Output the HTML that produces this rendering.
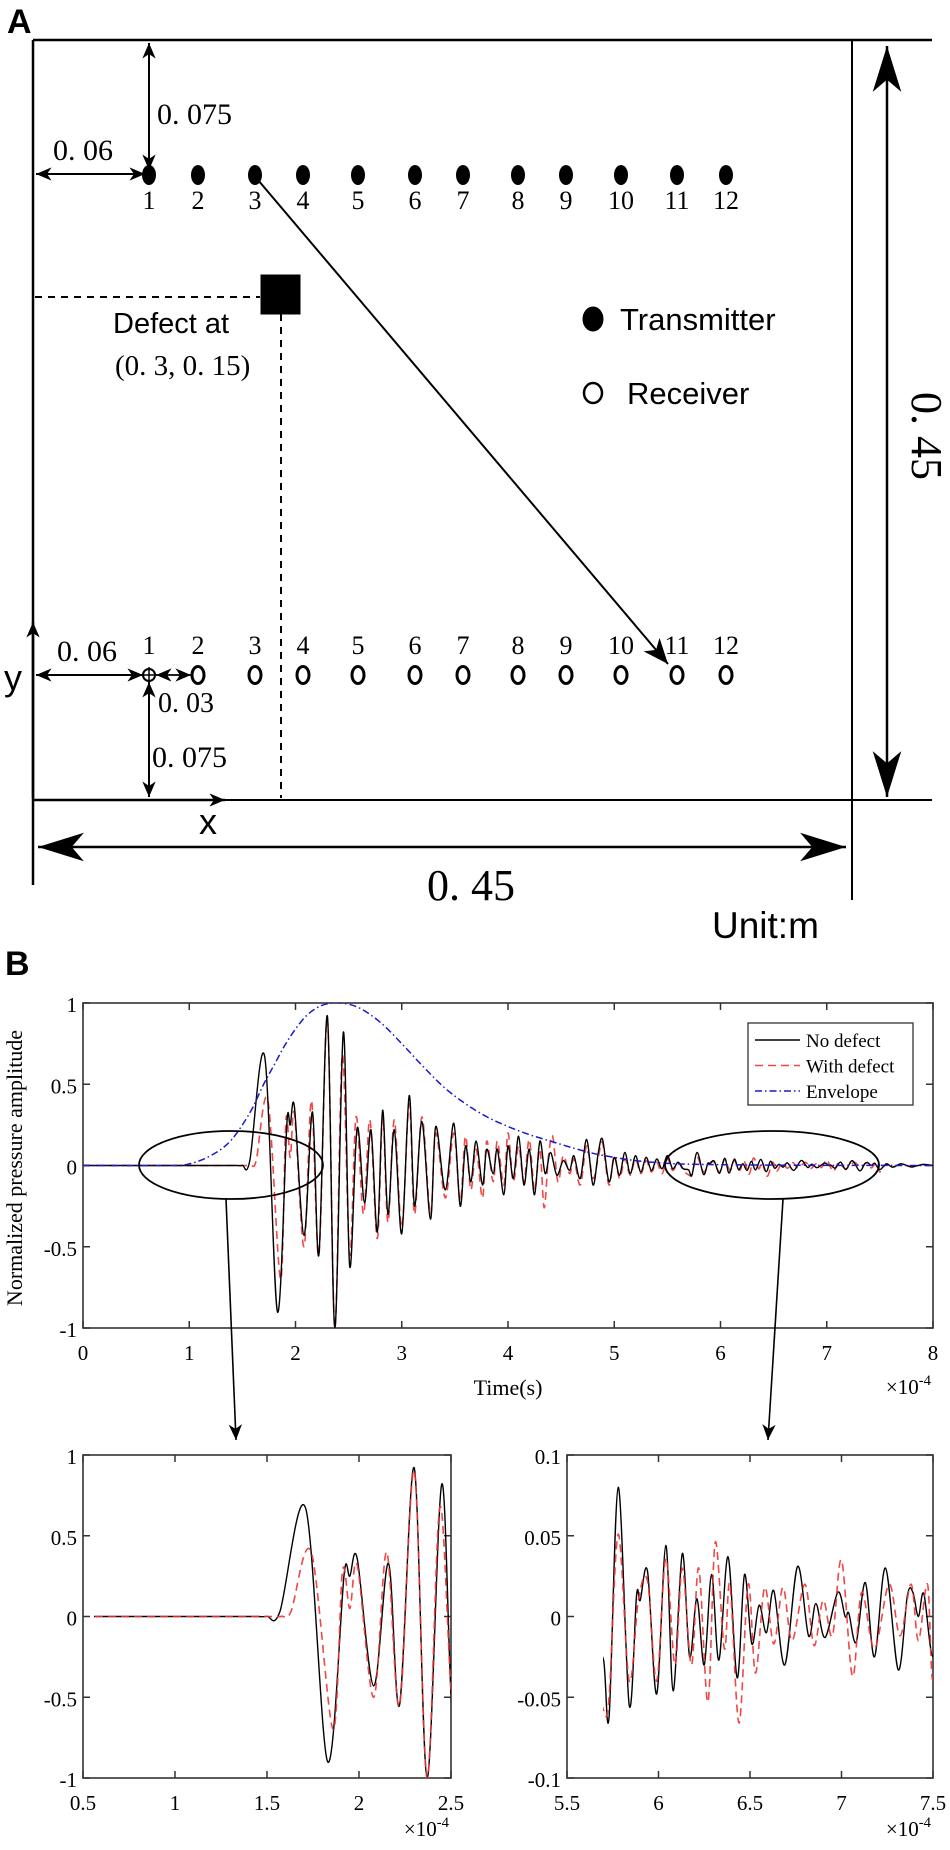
<!DOCTYPE html>
<html><head><meta charset="utf-8">
<style>
html,body{margin:0;padding:0;background:#fff;overflow:hidden;width:950px;height:1850px;}
svg{display:block;overflow:hidden;}
.serif{font-family:"Liberation Serif",serif;}
.sans{font-family:"Liberation Sans",sans-serif;}
</style></head>
<body>
<svg id="fig" width="950" height="1850" viewBox="0 0 950 1850" xmlns="http://www.w3.org/2000/svg">
<defs>
  <marker id="hs" markerUnits="userSpaceOnUse" markerWidth="20" markerHeight="20" refX="14" refY="0" viewBox="-2 -8 18 16" orient="auto-start-reverse"><path d="M0,-6 L14,0 L0,6 L4,0 Z" fill="#000"/></marker>
  <marker id="hm" markerUnits="userSpaceOnUse" markerWidth="30" markerHeight="30" refX="22" refY="0" viewBox="-2 -11 26 22" orient="auto-start-reverse"><path d="M0,-9 L22,0 L0,9 L6,0 Z" fill="#000"/></marker>
  <marker id="hb" markerUnits="userSpaceOnUse" markerWidth="50" markerHeight="34" refX="45" refY="0" viewBox="-2 -15 49 30" orient="auto-start-reverse"><path d="M0,-14 L45,0 L0,14 L12,0 Z" fill="#000"/></marker>
  <clipPath id="clipMain"><rect x="83" y="1003" width="850" height="325"/></clipPath>
  <clipPath id="clipL"><rect x="94" y="1455" width="357" height="323"/></clipPath>
  <clipPath id="clipR"><rect x="603" y="1455" width="330" height="323"/></clipPath>
</defs>

<!-- Panel A -->
<g stroke="#000" fill="none">
  <text class="sans" x="7" y="33" font-size="34" font-weight="bold" fill="#000" stroke="none">A</text>
  <line x1="33" y1="40" x2="932" y2="40" stroke-width="2.5"/>
  <line x1="33" y1="40" x2="33" y2="885" stroke-width="2.5"/>
  <line x1="852" y1="40" x2="852" y2="900" stroke-width="2"/>
  <line x1="33" y1="800" x2="932" y2="800" stroke-width="2"/>
  <line x1="887" y1="46" x2="887" y2="797" stroke-width="2.5" marker-start="url(#hb)" marker-end="url(#hb)"/>
  <line x1="38" y1="847" x2="846" y2="847" stroke-width="2.5" marker-start="url(#hb)" marker-end="url(#hb)"/>
  <line x1="149" y1="43" x2="149" y2="170" stroke-width="2" marker-start="url(#hs)" marker-end="url(#hs)"/>
  <line x1="36" y1="174" x2="145" y2="174" stroke-width="2" marker-start="url(#hs)" marker-end="url(#hs)"/>
  <line x1="258" y1="180" x2="668" y2="664" stroke-width="2" marker-end="url(#hm)"/>
  <line x1="35" y1="297" x2="260" y2="297" stroke-width="2" stroke-dasharray="7 6"/>
  <line x1="281" y1="314" x2="281" y2="798" stroke-width="2" stroke-dasharray="7 6"/>
  <rect x="261" y="275" width="39" height="39" fill="#000"/>
  <line x1="33" y1="798" x2="33" y2="622" stroke-width="2.5" marker-end="url(#hs)"/>
  <line x1="33" y1="800" x2="225" y2="800" stroke-width="2.5" marker-end="url(#hs)"/>
  <line x1="36" y1="675" x2="143" y2="675" stroke-width="2" marker-start="url(#hs)" marker-end="url(#hs)"/>
  <line x1="156" y1="675" x2="191" y2="675" stroke-width="1.8" marker-start="url(#hs)" marker-end="url(#hs)"/>
  <line x1="149" y1="682" x2="149" y2="797" stroke-width="2" marker-start="url(#hs)" marker-end="url(#hs)"/>
  <circle cx="149" cy="675" r="6" stroke-width="2"/>
  <line x1="141" y1="675" x2="157" y2="675" stroke-width="1.5"/>
  <line x1="149" y1="667" x2="149" y2="683" stroke-width="1.5"/>
  <ellipse cx="593" cy="319" rx="10" ry="12" fill="#000"/>
  <ellipse cx="593" cy="393" rx="9" ry="10" stroke-width="2.5"/>
</g>
<g fill="#000">
  <text class="serif" x="157" y="124" font-size="30">0. 075</text>
  <text class="serif" x="53" y="160" font-size="30">0. 06</text>
  <text class="sans" x="113" y="333" font-size="29">Defect at</text>
  <text class="serif" x="115" y="375" font-size="29">(0. 3, 0. 15)</text>
  <text class="sans" x="620" y="330" font-size="31">Transmitter</text>
  <text class="sans" x="627" y="404" font-size="31">Receiver</text>
  <text class="serif" x="0" y="0" font-size="44" transform="translate(912,392) rotate(90)">0. 45</text>
  <text class="serif" x="427" y="900" font-size="44">0. 45</text>
  <text class="sans" x="712" y="938" font-size="37">Unit:m</text>
  <text class="sans" x="4" y="690" font-size="36">y</text>
  <text class="sans" x="199" y="834" font-size="36">x</text>
  <text class="serif" x="57" y="661" font-size="30">0. 06</text>
  <text class="serif" x="158" y="712" font-size="28">0. 03</text>
  <text class="serif" x="152" y="767" font-size="30">0. 075</text>
</g>
<g id="sensors"></g>

<!-- Panel B -->
<text class="sans" x="5" y="975" font-size="34" font-weight="bold" fill="#000">B</text>
<g id="mainChart"></g>
<g id="insetL"></g>
<g id="insetR"></g>
<g stroke="#000" fill="none">
  <ellipse cx="231" cy="1165" rx="92" ry="34" stroke-width="1.8"/>
  <ellipse cx="772" cy="1165" rx="107" ry="34" stroke-width="1.8"/>
  <line x1="226" y1="1199" x2="236" y2="1440" stroke-width="1.6" marker-end="url(#hs)"/>
  <line x1="783" y1="1199" x2="768" y2="1440" stroke-width="1.6" marker-end="url(#hs)"/>
</g>

<script>
// Sensor layout data
const sensorLabels = ["1","2","3","4","5","6","7","8","9","10","11","12"];
const sensorX = [149,198,255,303,358,415,463,518,566,621,677,726];

// Chart data (time in 1e-4 s, normalized amplitude)
const noDefectPts = [[0,0],[1.45,0],[1.5,0.001],[1.57,0.03],[1.71,0.67],[1.83,-0.9],[1.92,0.27],[1.95,0.25],[1.99,0.36],[2.08,-0.43],[2.16,0.33],[2.22,-0.55],[2.30,0.92],[2.37,-1.0],[2.45,0.82],[2.51,-0.62],[2.58,0.23],[2.65,-0.23],[2.71,0.22],[2.77,-0.41],[2.82,0.34],[2.87,-0.3],[2.93,0.22],[3.0,-0.42],[3.07,0.43],[3.12,-0.25],[3.19,0.27],[3.27,-0.33],[3.32,0.24],[3.41,-0.15],[3.49,0.26],[3.55,-0.25],[3.6,0.12],[3.65,-0.1],[3.7,0.15],[3.76,-0.12],[3.8,0.1],[3.86,-0.05],[3.9,0.1],[3.96,-0.18],[4.0,0.12],[4.05,-0.08],[4.1,0.18],[4.15,-0.12],[4.2,0.1],[4.25,-0.18],[4.3,0.15],[4.35,-0.05],[4.4,0.08],[4.46,-0.06],[4.52,0.03],[4.58,-0.03],[4.62,0.06],[4.68,-0.08],[4.74,0.16],[4.8,-0.12],[4.85,0.08],[4.89,0.16],[4.95,-0.1],[5.0,0.05],[5.05,-0.06],[5.1,0.08],[5.15,-0.05],[5.2,0.06],[5.25,-0.04],[5.3,0.05],[5.35,-0.03],[5.4,0.04],[5.45,-0.02],[5.5,0.06],[5.55,-0.02],[5.6,0.02],[5.65,-0.02],[5.7,-0.027],[5.73,-0.062],[5.78,0.08],[5.84,-0.055],[5.88,0.013],[5.9,0.01],[5.94,0.028],[5.99,-0.048],[6.04,0.044],[6.08,-0.046],[6.13,0.039],[6.17,-0.025],[6.21,0.011],[6.25,-0.03],[6.29,0.026],[6.33,-0.027],[6.38,0.037],[6.43,-0.038],[6.47,0.026],[6.51,-0.017],[6.55,0.007],[6.59,-0.01],[6.63,0.016],[6.69,-0.03],[6.76,0.031],[6.82,-0.012],[6.86,0.008],[6.91,-0.013],[6.98,0.015],[7.02,0.0],[7.04,0.002],[7.08,-0.016],[7.13,0.021],[7.18,-0.025],[7.24,0.03],[7.31,-0.033],[7.36,0.013],[7.39,0.015],[7.42,0.0],[7.45,0.014],[7.5,-0.025],[7.56,0.01],[7.62,-0.01],[7.7,0.01],[7.8,-0.008],[7.9,0.006],[8,0]];
const withDefectPts = [[0,0],[1.52,0],[1.58,0.001],[1.63,0.03],[1.74,0.4],[1.86,-0.7],[1.91,0.28],[1.95,0.05],[1.99,0.32],[2.08,-0.5],[2.15,0.4],[2.22,-0.55],[2.30,0.9],[2.37,-1.0],[2.44,0.68],[2.51,-0.55],[2.57,0.3],[2.64,-0.3],[2.7,0.28],[2.77,-0.45],[2.82,0.3],[2.87,-0.35],[2.93,0.28],[3.0,-0.38],[3.07,0.38],[3.12,-0.3],[3.19,0.3],[3.27,-0.3],[3.32,0.2],[3.41,-0.2],[3.49,0.2],[3.55,-0.22],[3.6,0.18],[3.65,-0.15],[3.7,0.1],[3.76,-0.2],[3.8,0.15],[3.86,-0.1],[3.9,0.15],[3.96,-0.12],[4.0,0.2],[4.05,-0.1],[4.1,0.12],[4.15,-0.1],[4.2,0.16],[4.25,-0.15],[4.3,0.1],[4.34,-0.26],[4.38,0.05],[4.42,0.18],[4.47,-0.1],[4.52,0.06],[4.58,-0.05],[4.62,0.04],[4.68,-0.12],[4.74,0.12],[4.8,-0.08],[4.85,0.05],[4.89,0.14],[4.95,-0.12],[5.0,0.06],[5.05,-0.08],[5.1,0.04],[5.15,-0.06],[5.2,0.04],[5.25,-0.05],[5.3,0.03],[5.35,-0.04],[5.4,0.02],[5.45,-0.05],[5.5,0.04],[5.55,-0.03],[5.6,0.02],[5.65,-0.03],[5.7,-0.058],[5.73,-0.05],[5.78,0.051],[5.84,-0.04],[5.89,0.01],[5.94,0.022],[5.99,-0.04],[6.04,0.036],[6.09,-0.03],[6.13,0.03],[6.18,-0.03],[6.22,0.03],[6.27,-0.053],[6.31,0.046],[6.36,-0.02],[6.39,0.02],[6.44,-0.066],[6.49,0.02],[6.53,-0.035],[6.58,0.018],[6.63,-0.017],[6.68,0.018],[6.73,-0.015],[6.8,0.02],[6.85,-0.018],[6.9,0.01],[6.95,-0.012],[7.0,0.035],[7.06,-0.037],[7.11,0.015],[7.18,-0.02],[7.26,0.02],[7.32,-0.012],[7.38,0.02],[7.42,-0.015],[7.47,0.02],[7.5,-0.04],[7.56,0.01],[7.62,-0.012],[7.7,0.01],[7.8,-0.01],[7.9,0.006],[8,0]];
const envelopeT = [0,0.9,1.0,1.1,1.2,1.3,1.4,1.5,1.6,1.7,1.8,1.9,2.0,2.1,2.2,2.3,2.43,2.6,2.8,3.0,3.2,3.4,3.6,3.8,4.0,4.2,4.4,4.6,4.8,5.0,5.2,5.4,5.6,6.0,6.5,7,8];
const envelopeV = [0,0,0.01,0.03,0.06,0.1,0.16,0.25,0.36,0.5,0.62,0.74,0.84,0.92,0.97,0.995,1.0,0.97,0.88,0.75,0.61,0.48,0.38,0.3,0.24,0.19,0.15,0.11,0.075,0.05,0.03,0.018,0.01,0.005,0.002,0.001,0];
const mainXTicks = [0,1,2,3,4,5,6,7,8];
const mainYTicks = [1,0.5,0,-0.5,-1];
const mainYLabels = ["1","0.5","0","-0.5","-1"];
const leftXTicks = [0.5,1,1.5,2,2.5];
const leftXLabels = ["0.5","1","1.5","2","2.5"];
const rightXTicks = [5.5,6,6.5,7,7.5];
const rightXLabels = ["5.5","6","6.5","7","7.5"];
const rightYTicks = [0.1,0.05,0,-0.05,-0.1];
const rightYLabels = ["0.1","0.05","0","-0.05","-0.1"];
const legendLabels = ["No defect","With defect","Envelope"];

const NS = "http://www.w3.org/2000/svg";
function mk(parent, tag, attrs, text){
  const e = document.createElementNS(NS, tag);
  for (const k in attrs) e.setAttribute(k, attrs[k]);
  if (text !== undefined) e.textContent = text;
  parent.appendChild(e);
  return e;
}

// Sensors
const sg = document.getElementById('sensors');
sensorX.forEach((x, i) => {
  const t = mk(sg, 'ellipse', {cx:x, cy:175, rx:7, ry:10, fill:'#000'});
  
  
  const tl = mk(sg, 'text', {x:x, y:209, 'text-anchor':'middle', 'font-size':26, class:'serif', fill:'#000'}, sensorLabels[i]);
  
  
  if (i > 0) {
    const r = mk(sg, 'ellipse', {cx:x, cy:675, rx:6, ry:8.5, fill:'none', stroke:'#000', 'stroke-width':3});
    
    
  }
  const rl = mk(sg, 'text', {x:x, y:654, 'text-anchor':'middle', 'font-size':26, class:'serif', fill:'#000'}, sensorLabels[i]);
  
  
});

function crPath(pts, X, Y){
  const p = pts.map(d => [X(d[0]), Y(d[1])]);
  let s = 'M' + p[0][0].toFixed(2) + ',' + p[0][1].toFixed(2);
  for (let i = 0; i < p.length - 1; i++){
    const p0 = p[i-1] || p[i], p1 = p[i], p2 = p[i+1], p3 = p[i+2] || p[i+1];
    const dx = p2[0] - p1[0];
    let c1x = p1[0] + (p2[0]-p0[0])/6, c1y = p1[1] + (p2[1]-p0[1])/6;
    let c2x = p2[0] - (p3[0]-p1[0])/6, c2y = p2[1] - (p3[1]-p1[1])/6;
    const k1 = (c1x - p1[0]) > dx/2 ? (dx/2)/(c1x - p1[0]) : 1;
    c1x = p1[0] + (c1x - p1[0])*k1; c1y = p1[1] + (c1y - p1[1])*k1;
    const k2 = (p2[0] - c2x) > dx/2 ? (dx/2)/(p2[0] - c2x) : 1;
    c2x = p2[0] - (p2[0] - c2x)*k2; c2y = p2[1] - (p2[1] - c2y)*k2;
    s += ' C' + c1x.toFixed(2) + ',' + c1y.toFixed(2) + ' ' + c2x.toFixed(2) + ',' + c2y.toFixed(2) + ' ' + p2[0].toFixed(2) + ',' + p2[1].toFixed(2);
  }
  return s;
}

function axes(g, o){
  const {x0,x1,y0,y1,xmin,xmax,ymin,ymax,xt,xl,yt,yl,fs,sfy} = o;
  const X = t => x0 + (t - xmin) / (xmax - xmin) * (x1 - x0);
  const Y = v => y1 - (v - ymin) / (ymax - ymin) * (y1 - y0);
  xt.forEach((t, i) => {
    mk(g, 'line', {x1:X(t), y1:y1, x2:X(t), y2:y1-7, stroke:'#333', 'stroke-width':1.5});
    mk(g, 'line', {x1:X(t), y1:y0, x2:X(t), y2:y0+7, stroke:'#333', 'stroke-width':1.5});
    const lb = mk(g, 'text', {x:X(t), y:y1+32, 'text-anchor':'middle', 'font-size':fs, class:'serif', fill:'#000'}, xl[i]);
    
    
  });
  yt.forEach((v, i) => {
    mk(g, 'line', {x1:x0, y1:Y(v), x2:x0+7, y2:Y(v), stroke:'#333', 'stroke-width':1.5});
    mk(g, 'line', {x1:x1, y1:Y(v), x2:x1-7, y2:Y(v), stroke:'#333', 'stroke-width':1.5});
    const lb = mk(g, 'text', {x:x0-6, y:Y(v)+9, 'text-anchor':'end', 'font-size':fs, class:'serif', fill:'#000'}, yl[i]);
    
    
  });
  const fr = mk(g, 'rect', {x:x0, y:y0, width:x1-x0, height:y1-y0, fill:'none', stroke:'#333', 'stroke-width':1.6});
  
  
  const sx = mk(g, 'text', {x:x1-2, y:y1+sfy, 'text-anchor':'end', 'font-size':fs, class:'serif', fill:'#000'});
  
  
  mk(sx, 'tspan', {}, '×10');
  mk(sx, 'tspan', {dy:-9, 'font-size':fs*0.7}, '-4');
  return {X, Y};
}

function series(g, pts, X, Y, clip, style, name){
  const p = mk(g, 'path', Object.assign({d:crPath(pts, X, Y), fill:'none', 'clip-path':clip}, style));
  
  
}
const black = {stroke:'#000', 'stroke-width':1.4};
const red = {stroke:'#ee3333', 'stroke-width':1.6, 'stroke-dasharray':'8 5', opacity:0.9};
const blue = {stroke:'#1a1acc', 'stroke-width':1.5, 'stroke-dasharray':'7 3 1.5 3'};

// Main chart
const mg = document.getElementById('mainChart');
const M = axes(mg, {x0:83,x1:933,y0:1003,y1:1328,xmin:0,xmax:8,ymin:-1,ymax:1,xt:mainXTicks,xl:mainXTicks.map(String),yt:mainYTicks,yl:mainYLabels,fs:21,sfy:66});
series(mg, withDefectPts, M.X, M.Y, 'url(#clipMain)', red, 'with-defect-line');
series(mg, noDefectPts, M.X, M.Y, 'url(#clipMain)', black, 'no-defect-line');
series(mg, envelopeT.map((t,i)=>[t, envelopeV[i]]), M.X, M.Y, 'url(#clipMain)', blue, 'envelope-line');
const xt = mk(mg, 'text', {x:508, y:1395, 'text-anchor':'middle', 'font-size':22, class:'serif', fill:'#000'}, 'Time(s)');


const yt = mk(mg, 'text', {x:0, y:0, 'text-anchor':'middle', 'font-size':22, class:'serif', fill:'#000', transform:'translate(22,1168) rotate(-90)'}, 'Normalized pressure amplitude');


// Legend
const lg = mk(mg, 'g', {});


mk(lg, 'rect', {x:748, y:1023, width:165, height:82, fill:'#fff', stroke:'#333', 'stroke-width':1.3});
const legStyles = [black, red, blue];
legendLabels.forEach((lab, i) => {
  const yy = 1040 + i * 25.5;
  mk(lg, 'line', Object.assign({x1:755, y1:yy, x2:800, y2:yy}, legStyles[i]));
  const t = mk(lg, 'text', {x:806, y:yy+7, 'font-size':19, class:'serif', fill:'#000'}, lab);
  
  
});

// Left inset
const lgI = document.getElementById('insetL');
const L = axes(lgI, {x0:83,x1:451,y0:1455,y1:1778,xmin:0.5,xmax:2.5,ymin:-1,ymax:1,xt:leftXTicks,xl:leftXLabels,yt:mainYTicks,yl:mainYLabels,fs:21,sfy:58});
series(lgI, noDefectPts, L.X, L.Y, 'url(#clipL)', black, 'inset-left-no-defect-line');
series(lgI, withDefectPts, L.X, L.Y, 'url(#clipL)', red, 'inset-left-with-defect-line');

// Right inset
const rgI = document.getElementById('insetR');
const R = axes(rgI, {x0:567,x1:933,y0:1455,y1:1778,xmin:5.5,xmax:7.5,ymin:-0.1,ymax:0.1,xt:rightXTicks,xl:rightXLabels,yt:rightYTicks,yl:rightYLabels,fs:21,sfy:58});
series(rgI, noDefectPts, R.X, R.Y, 'url(#clipR)', black, 'inset-right-no-defect-line');
series(rgI, withDefectPts, R.X, R.Y, 'url(#clipR)', red, 'inset-right-with-defect-line');
</script>
</body></html>
